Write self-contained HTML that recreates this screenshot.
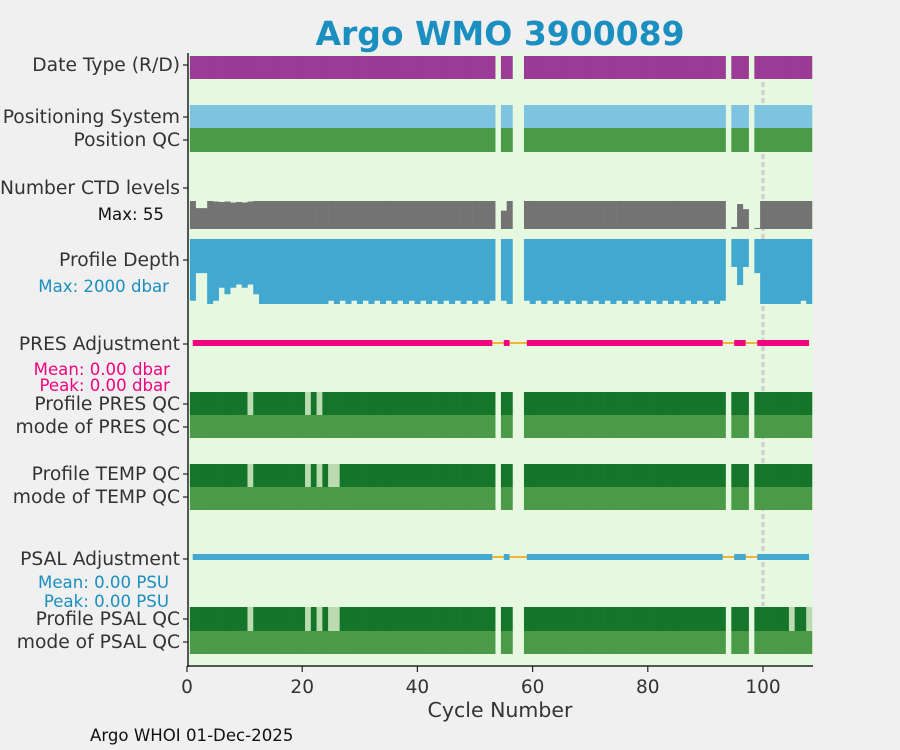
<!DOCTYPE html>
<html><head><meta charset="utf-8"><style>
html,body{margin:0;padding:0;background:#f0f0f0;}
svg{display:block;font-family:"DejaVu Sans","Liberation Sans",sans-serif;}
</style></head><body>
<svg id="chart" width="900" height="750" viewBox="0 0 900 750"></svg>
<script>
// ---- data ----
const cycles = [];
for (let c = 1; c <= 108; c++) cycles.push(c);
const missingCycles = [54, 57, 58, 94, 98];
const ctdLevels = {1:55,2:41,3:41,4:55,5:54,6:53,7:54,8:52,9:53,10:52,11:54,12:55,55:36,95:4,96:49,97:39,99:2};
const ctdDefault = 55;
const depthVals = {1:1900,2:1050,3:1050,4:2000,5:1900,6:1500,7:1700,8:1500,9:1400,10:1500,11:1400,12:1700,55:1900,56:2000,95:860,96:1415,97:860,99:1050,107:1900};
const depthShortOdd = [[25,53],[59,93]];
const presBadQC = [11, 21, 23];
const tempBadQC = [11, 21, 23, 25, 26];
const psalBadQC = [11, 21, 23, 25, 26, 105, 108];
const xTicks = [0, 20, 40, 60, 80, 100];
const maxLevels = 55, maxDepth = 2000;

// ---- scales ----
const X0 = 187, PX = 5.76;
function xs(c){ return X0 + c * PX; }
const svg = document.getElementById('chart');
const NS = 'http://www.w3.org/2000/svg';
function mk(tag, attrs, parent){
  const e = document.createElementNS(NS, tag);
  for (const k in attrs) e.setAttribute(k, attrs[k]);
  (parent || svg).appendChild(e);
  return e;
}
function present(c){ return missingCycles.indexOf(c) < 0; }
function depthOf(c){
  if (depthVals[c] !== undefined) return depthVals[c];
  for (const r of depthShortOdd) if (c >= r[0] && c <= r[1] && c % 2 === 1) return 1900;
  return 2000;
}

const bg = mk('rect', {x:188, y:53, width:625, height:613, fill:'#e6f9e0'});



const ref = mk('line', {x1:xs(100), x2:xs(100), y1:82, y2:606, stroke:'#cccccc', 'stroke-width':3, 'stroke-dasharray':'5,3'});



function bandRow(name, y0, h, colorFn){
  const g = mk('g', {});
  
  
  cycles.forEach(c => {
    if (!present(c)) return;
    const col = colorFn(c);
    const r = mk('rect', {x:xs(c-0.5), y:y0, width:PX+0.3, height:h, fill:col}, g);
    
    
  });
}
bandRow('date-type-row', 56, 23, () => '#9b3b96');
bandRow('positioning-system-row', 105, 23, () => '#7ec4e0');
bandRow('position-qc-row', 128, 24, () => '#4a9a48');
bandRow('profile-pres-qc-row', 392, 23, c => presBadQC.indexOf(c) >= 0 ? '#bcdbb0' : '#15752a');
bandRow('mode-pres-qc-row', 415, 23, () => '#4a9a48');
bandRow('profile-temp-qc-row', 464, 23, c => tempBadQC.indexOf(c) >= 0 ? '#bcdbb0' : '#15752a');
bandRow('mode-temp-qc-row', 487, 23, () => '#4a9a48');
bandRow('profile-psal-qc-row', 607, 24, c => psalBadQC.indexOf(c) >= 0 ? '#bcdbb0' : '#15752a');
bandRow('mode-psal-qc-row', 631, 23, () => '#4a9a48');

const gL = mk('g', {});


cycles.forEach(c => {
  if (!present(c)) return;
  const v = ctdLevels[c] !== undefined ? ctdLevels[c] : ctdDefault;
  const h = v / maxLevels * 28;
  const r = mk('rect', {x:xs(c-0.5), y:229-h, width:PX+0.3, height:h, fill:'#737373'}, gL);
  
  
});
const gD = mk('g', {});


cycles.forEach(c => {
  if (!present(c)) return;
  const h = depthOf(c) / maxDepth * 65;
  const r = mk('rect', {x:xs(c-0.5), y:239, width:PX+0.3, height:h, fill:'#42a8cf'}, gD);
  
  
});

function adjLine(name, y, col){
  const g = mk('g', {});
  
  
  const o = mk('line', {x1:xs(1), x2:xs(108), y1:y, y2:y, stroke:'#f5b335', 'stroke-width':2}, g);
  
  
  let segs = [], s = null;
  cycles.forEach(c => {
    if (present(c)) { if (s === null) s = c; }
    else if (s !== null) { segs.push([s, c-1]); s = null; }
  });
  if (s !== null) segs.push([s, 108]);
  segs.forEach(sg => {
    const r = mk('rect', {x:xs(sg[0]), y:y-3, width:xs(sg[1])-xs(sg[0]) || 1, height:6, fill:col}, g);
    
    
  });
}
adjLine('pres-adjustment-line', 343, '#f0047f');
adjLine('psal-adjustment-line', 557, '#42a8cf');

mk('line', {x1:188, x2:188, y1:53, y2:667, stroke:'#222', 'stroke-width':1.5});
mk('line', {x1:187, x2:813, y1:666, y2:666, stroke:'#222', 'stroke-width':1.5});

const yLabels = [
  ['Date Type (R/D)', 65], ['Positioning System', 117], ['Position QC', 140],
  ['Number CTD levels', 188], ['Profile Depth', 260], ['PRES Adjustment', 344],
  ['Profile PRES QC', 404], ['mode of PRES QC', 427], ['Profile TEMP QC', 474],
  ['mode of TEMP QC', 497], ['PSAL Adjustment', 559], ['Profile PSAL QC', 619], ['mode of PSAL QC', 642]
];
yLabels.forEach(l => {
  mk('line', {x1:183, x2:188, y1:l[1], y2:l[1], stroke:'#222', 'stroke-width':1.2});
  const t = mk('text', {x:180, y:l[1]+6, 'text-anchor':'end', 'font-size':18.7, fill:'#333'});
  t.textContent = l[0];
  
  
});
const subs = [
  ['Max: 55', 164, 220, '#111'], ['Max: 2000 dbar', 169, 292, '#1a8fc0'],
  ['Mean: 0.00 dbar', 170, 375, '#f0047f'], ['Peak: 0.00 dbar', 170, 391, '#f0047f'],
  ['Mean: 0.00 PSU', 169, 588, '#1a8fc0'], ['Peak: 0.00 PSU', 169, 607, '#1a8fc0']
];
subs.forEach(s => {
  const t = mk('text', {x:s[1], y:s[2], 'text-anchor':'end', 'font-size':16.6, fill:s[3]});
  t.textContent = s[0];
  
  
});
xTicks.forEach(v => {
  mk('line', {x1:xs(v), x2:xs(v), y1:666, y2:672, stroke:'#222', 'stroke-width':1.2});
  const t = mk('text', {x:xs(v), y:693, 'text-anchor':'middle', 'font-size':18.5, fill:'#333'});
  t.textContent = v;
  
  
});
const xt = mk('text', {x:500, y:717, 'text-anchor':'middle', 'font-size':20.5, fill:'#333'});
xt.textContent = 'Cycle Number';


const tt = mk('text', {x:500, y:45, 'text-anchor':'middle', 'font-size':33, 'font-weight':'bold', fill:'#1a8fc0'});
tt.textContent = 'Argo WMO 3900089';


const ft = mk('text', {x:90, y:741, 'font-size':16.6, fill:'#111'});
ft.textContent = 'Argo WHOI 01-Dec-2025';


</script>
</body></html>
